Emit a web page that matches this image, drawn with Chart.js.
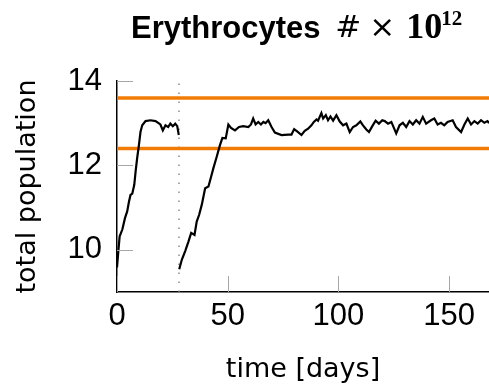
<!DOCTYPE html>
<html>
<head>
<meta charset="utf-8">
<style>
  html, body { margin: 0; padding: 0; background: #fff; }
  #wrap { width: 489px; height: 390px; }
</style>
</head>
<body>
<div id="wrap"><canvas id="chart" width="489" height="390"></canvas></div>
<script src="https://cdn.jsdelivr.net/npm/chart.js"></script>
<script>
// simulated erythrocyte count (x 10^12), null = restart gap
const days = [
  0, 0.6, 1.2, 2.4, 3.6, 4.6, 5.4, 6.1, 6.9, 7.8, 8.4, 9.1, 9.9, 10.6, 11.4, 12.9,
  15.1, 17.4, 19.6, 20.7, 21.9, 23.1, 24.1, 25.2, 26.3, 27.2, 27.9,
  28.0,
  28.1, 29.3, 30.8, 32.3, 33.5, 35.0, 36.0, 37.1, 38.3, 39.8, 41.3, 42.5, 43.5, 45.0,
  46.5, 47.6, 49.1, 50.3, 51.5, 53.3, 55.1, 57.0, 59.3, 60.5, 61.5, 62.6, 63.8, 65.0,
  66.1, 67.1, 68.3, 69.8, 71.3, 74.3, 77.3, 78.8, 80.0, 81.5, 83.3, 84.8, 86.3, 87.8,
  88.9, 90.1, 90.8, 92.3, 93.1, 94.3, 95.3, 96.4, 97.6, 99.1, 100.6, 102.1, 103.6,
  105.1, 106.6, 108.1, 109.9, 111.1, 112.6, 113.8, 115.3, 116.8, 118.3, 119.8, 120.9,
  122.4, 123.9, 126.1, 127.6, 129.1, 130.6, 132.1, 133.6, 135.1, 136.6, 138.1, 139.6,
  141.8, 143.3, 144.8, 146.3, 147.8, 149.3, 151.6, 153.1, 155.4, 156.9, 158.4, 159.9,
  161.4, 162.9, 164.4, 165.9, 167.3, 168
];
const erythrocytes = [
  9.58, 9.97, 10.32, 10.48, 10.75, 10.91, 11.14, 11.30, 11.33, 11.54, 11.85, 12.17, 12.48, 12.79, 12.95, 13.05,
  13.07, 13.05, 12.97, 12.83, 12.95, 12.91, 12.99, 12.93, 12.99, 12.93, 12.72,
  null,
  9.54, 9.77, 9.97, 10.20, 10.40, 10.35, 10.67, 10.83, 11.07, 11.46, 11.50, 11.73, 11.93, 12.20,
  12.48, 12.65, 12.64, 12.97, 12.89, 12.83, 12.91, 12.93, 12.91, 12.97, 13.11, 12.97, 13.03, 12.97,
  13.03, 13.00, 13.07, 12.91, 12.78, 12.72, 12.73, 12.73, 12.86, 12.80, 12.72, 12.82, 12.87, 12.95,
  13.03, 13.09, 13.06, 13.24, 13.11, 13.19, 13.07, 13.16, 13.06, 13.19, 13.04, 12.95, 12.99,
  12.79, 12.91, 12.95, 13.04, 12.95, 12.85, 12.79, 12.93, 13.06, 12.99, 13.07, 13.05,
  12.99, 13.03, 12.76, 12.95, 13.01, 12.91, 13.05, 12.97, 13.07, 12.99, 13.15, 12.99,
  13.07, 13.11, 12.97, 13.01, 12.95, 13.03, 13.07, 12.91, 12.79, 12.97, 13.11, 12.97,
  13.05, 12.99, 13.07, 13.01, 13.05, 13.0
];
const normalLow = 12.4;
const normalHigh = 13.6;
const restartDay = 28;
const dayRange = [0, 168];
const popRange = [9, 14];
const xTicks = [0, 50, 100, 150];
const yTicks = [10, 12, 14];

const FONT = '"Liberation Sans", Arial, sans-serif';
const LABEL_FONT = '"DejaVu Sans", sans-serif';

const series = days.map((d, i) => ({ x: d, y: erythrocytes[i] }));

// short gray tick marks pointing into the plot
const innerTicks = {
  id: 'innerTicks',
  afterDatasetsDraw(chart) {
    const { ctx, chartArea: a, scales } = chart;
    ctx.save();
    ctx.strokeStyle = '#a6a6a6';
    ctx.lineWidth = 1;
    ctx.beginPath();
    xTicks.forEach(v => {
      const px = Math.round(scales.x.getPixelForValue(v)) + 0.5;
      ctx.moveTo(px, a.bottom);
      ctx.lineTo(px, a.bottom - 16);
    });
    yTicks.forEach(v => {
      const py = Math.round(scales.y.getPixelForValue(v)) + 0.5;
      ctx.moveTo(a.left, py);
      ctx.lineTo(a.left + 16, py);
    });
    ctx.stroke();
    ctx.restore();
  }
};

// title with math-style pieces: Erythrocytes # x 10^12
// gap = space between the inked glyphs of one piece and the next
const mathTitle = {
  id: 'mathTitle',
  afterDraw(chart) {
    const ctx = chart.ctx;
    const parts = [
      { t: 'Erythrocytes', f: 'bold 31px ' + FONT, gap: 18, base: 38 },
      { t: '#', f: '31px "DejaVu Sans", sans-serif', gap: 14, base: 37 },
      { t: '\u00d7', f: '31px "DejaVu Sans", sans-serif', gap: 17, base: 37 },
      { t: '10', f: 'bold 36px "Liberation Serif", serif', gap: 1, base: 37.5 },
      { t: '12', f: 'bold 21px "Liberation Serif", serif', gap: 0, base: 25 }
    ];
    ctx.save();
    ctx.fillStyle = '#000';
    ctx.textBaseline = 'alphabetic';
    ctx.textAlign = 'left';
    let inkX = 133;
    parts.forEach(p => {
      ctx.font = p.f;
      const m = ctx.measureText(p.t);
      ctx.fillText(p.t, inkX + m.actualBoundingBoxLeft, p.base);
      inkX += m.actualBoundingBoxLeft + m.actualBoundingBoxRight + p.gap;
    });
    ctx.restore();
  }
};

new Chart(document.getElementById('chart').getContext('2d'), {
  type: 'line',
  data: {
    datasets: [
      {
        data: series,
        borderColor: '#000',
        borderWidth: 2.2,
        pointRadius: 0,
        tension: 0,
        spanGaps: false
      },
      {
        data: dayRange.map(d => ({ x: d, y: normalLow })),
        borderColor: '#f27b06',
        borderWidth: 3.5,
        pointRadius: 0
      },
      {
        data: dayRange.map(d => ({ x: d, y: normalHigh })),
        borderColor: '#f27b06',
        borderWidth: 3.5,
        pointRadius: 0
      },
      {
        data: popRange.map(v => ({ x: restartDay, y: v })),
        borderColor: '#7a7a7a',
        borderWidth: 1.3,
        borderDash: [1.5, 7.5],
        pointRadius: 0
      }
    ]
  },
  options: {
    responsive: false,
    animation: false,
    devicePixelRatio: 1,
    layout: { padding: { top: 81, right: 0, bottom: 0, left: 0 } },
    plugins: { legend: { display: false }, tooltip: { enabled: false }, title: { display: false } },
    scales: {
      x: {
        type: 'linear',
        min: dayRange[0],
        max: dayRange[1],
        afterBuildTicks: s => { s.ticks = xTicks.map(v => ({ value: v })); },
        afterFit: s => { s.height = 98; },
        grid: { drawOnChartArea: false, drawTicks: false, color: 'rgba(0,0,0,0)' },
        border: { display: true, color: '#000', width: 1.5 },
        ticks: { color: '#000', padding: 6, maxRotation: 0, font: { family: FONT, size: 31 } },
        title: {
          display: true, text: 'time [days]', color: '#000',
          padding: { top: 0, bottom: 4 }, font: { family: LABEL_FONT, size: 27 }
        }
      },
      y: {
        min: popRange[0],
        max: popRange[1],
        afterBuildTicks: s => { s.ticks = yTicks.map(v => ({ value: v })); },
        afterFit: s => { s.width = 117; },
        grid: { drawOnChartArea: false, drawTicks: false, color: 'rgba(0,0,0,0)' },
        border: { display: true, color: '#000', width: 1.5 },
        ticks: { color: '#000', padding: 15, font: { family: FONT, size: 31 } },
        title: {
          display: true, text: 'total population', color: '#000',
          padding: { top: 12, bottom: 0 }, font: { family: LABEL_FONT, size: 27 }
        }
      }
    }
  },
  plugins: [innerTicks, mathTitle]
});
</script>
</body>
</html>
